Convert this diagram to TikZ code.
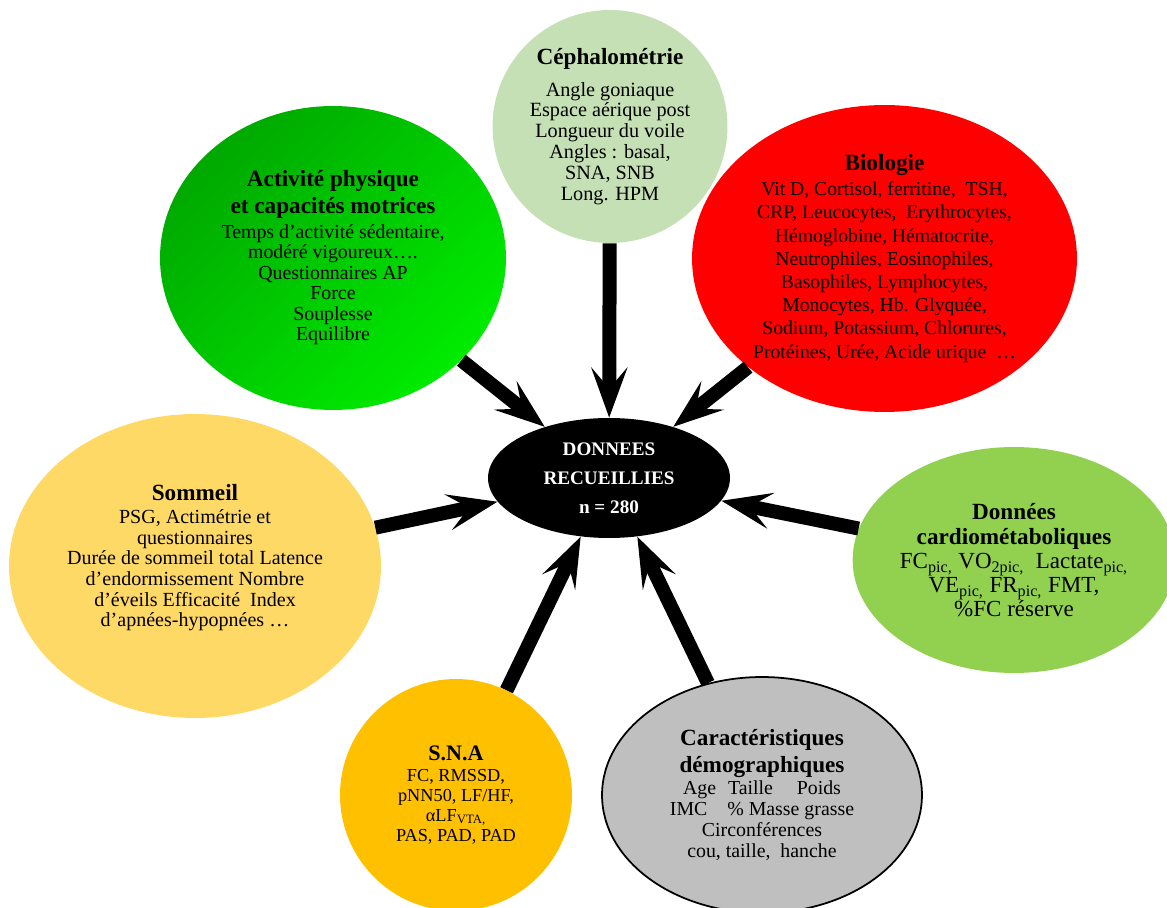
\documentclass[tikz,border=0pt]{standalone}
\usepackage{fontspec}
\setmainfont{Liberation Serif}
\usetikzlibrary{shapes.geometric,arrows.meta}

\definecolor{cephgreen}{RGB}{197,224,180}
\definecolor{actdark}{RGB}{0,168,0}
\definecolor{actlight}{RGB}{0,236,0}
\definecolor{sleepyellow}{RGB}{255,217,102}
\definecolor{cardiogreen}{RGB}{146,208,80}
\definecolor{snaorange}{RGB}{255,192,0}
\definecolor{demogray}{RGB}{191,191,191}

\newcommand{\bubtitle}[1]{{\fontsize{13.2}{14}\selectfont\bfseries #1}}

\begin{document}
\begin{tikzpicture}[x=0.02cm, y=-0.02cm,
  bubble/.style={ellipse, inner sep=0pt, align=center},
  bigarrow/.style={line width=0.28cm, -{Stealth[length=1cm, width=0.72cm, inset=0.42cm]}}]
  \useasboundingbox (0,0) rectangle (1167,908);
  % Central node
  \node[bubble, fill=black, text=white, minimum width=4.84cm, minimum height=2.4cm,
    font=\fontsize{10.9}{16.4}\selectfont\bfseries] (center) at (609,478)
    {DONNEES\\RECUEILLIES\\n = 280};
  % Surrounding bubbles
  \node[bubble, fill=cephgreen, minimum width=4.7cm, minimum height=4.66cm,
    font=\fontsize{11.5}{11.9}\selectfont] (ceph) at (610,126.5)
    {\bubtitle{Céphalométrie}\\[6.2pt]Angle goniaque\\Espace aérique post\\Longueur du voile\\Angles : basal,\\SNA, SNB\\Long. HPM};
  \node[bubble, top color=actdark, bottom color=actlight, shading angle=45,
    minimum width=6.92cm, minimum height=6.08cm,
    font=\fontsize{11.3}{11.7}\selectfont] (act) at (333,258)
    {\bubtitle{Activité physique}\\[1.9pt]\bubtitle{et capacités motrices}\\[2.5pt]Temps d’activité sédentaire,\\modéré vigoureux….\\Questionnaires AP\\Force\\Souplesse\\Equilibre};
  \node[bubble, fill=red, minimum width=7.7cm, minimum height=6.14cm,
    font=\fontsize{11.2}{13.2}\selectfont] (bio) at (884.5,258.5)
    {\bubtitle{Biologie}\\[1pt]Vit D, Cortisol, ferritine,\ \ TSH,\\CRP, Leucocytes,\ \ Erythrocytes,\\Hémoglobine, Hématocrite,\\Neutrophiles, Eosinophiles,\\Basophiles, Lymphocytes,\\Monocytes, Hb. Glyquée,\\Sodium, Potassium, Chlorures,\\Protéines, Urée, Acide urique\ \ …};
  \node[bubble, fill=sleepyellow, minimum width=7.44cm, minimum height=6.08cm,
    font=\fontsize{11.4}{11.8}\selectfont] (som) at (195,566)
    {\bubtitle{Sommeil}\\[1.2pt]PSG, Actimétrie et\\questionnaires\\Durée de sommeil total Latence\\d’endormissement Nombre\\d’éveils Efficacité\ \ Index\\d’apnées-hypopnées …\\ \mbox{}};
  \node[bubble, fill=cardiogreen, minimum width=6.24cm, minimum height=4.52cm,
    font=\fontsize{13.1}{13.6}\selectfont] (cardio) at (1014,560)
    {\bubtitle{Données}\\[0.6pt]\bubtitle{cardiométaboliques}\\[0.6pt]FC\textsubscript{pic,} VO\textsubscript{2pic,}\ \ Lactate\textsubscript{pic,}\\VE\textsubscript{pic,} FR\textsubscript{pic,} FMT,\\\%FC réserve};
  \node[bubble, fill=snaorange, minimum width=4.64cm, minimum height=4.64cm,
    font=\fontsize{10.4}{11.3}\selectfont] (sna) at (456,795)
    {{\fontsize{12.6}{13}\selectfont\bfseries S.N.A}\\[0.6pt]FC, RMSSD,\\pNN50, LF/HF,\\αLF\textsubscript{VTA,}\\PAS, PAD, PAD};
  \node[bubble, fill=demogray, draw=black, line width=1pt, minimum width=6.4cm, minimum height=4.72cm,
    font=\fontsize{11.3}{11.9}\selectfont] (demo) at (762,795)
    {\bubtitle{Caractéristiques}\\[2.3pt]\bubtitle{démographiques}\\[0.6pt]Age\hspace{0.6em}Taille\hspace{1.2em}Poids\\IMC\hspace{1em}\% Masse grasse\\Circonférences\\cou, taille,\ \ hanche};
  % Draw arrows
  \foreach \src in {ceph,act,bio,som,cardio,sna,demo}
    \draw[bigarrow] (\src) -- (center);
\end{tikzpicture}
\end{document}
